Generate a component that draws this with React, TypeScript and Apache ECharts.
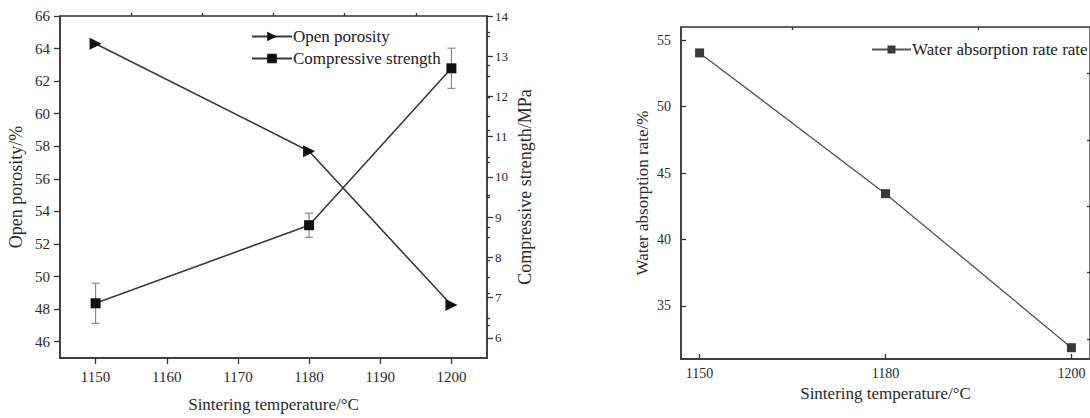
import React, { useEffect, useRef } from "react";
import * as echarts from "echarts";

// Sintering temperatures (°C)
const temps = [1150, 1180, 1200];
// Open porosity (%) and compressive strength (MPa) with error half-widths
const openPorosity = [64.3, 57.7, 48.25];
const compStrength = [6.86, 8.8, 12.7];
const compError = [0.5, 0.3, 0.5];
// Water absorption rate (%) at the same temperatures, plotted as evenly spaced points
const waterTempLabels = ["1150", "1180", "1200"];
const waterAbsorption = [54.05, 43.45, 31.85];

// Tick positions
const leftXMajor = [1150, 1160, 1170, 1180, 1190, 1200];
const leftXMinor = [1155, 1165, 1175, 1185, 1195];
const porosityMajor = [46, 48, 50, 52, 54, 56, 58, 60, 62, 64, 66];
const porosityMinor = [47, 49, 51, 53, 55, 57, 59, 61, 63, 65];
const strengthMajor = [6, 7, 8, 9, 10, 11, 12, 13, 14];
const strengthMinor = [6.5, 7.5, 8.5, 9.5, 10.5, 11.5, 12.5, 13.5];
const waterYMajor = [35, 40, 45, 50, 55];
const waterYMinor = [32.5, 37.5, 42.5, 47.5, 52.5];

const FONT = "Liberation Serif";
const AXIS = "#333";
const TEXT = "#2a2a2a";
const plain = (v: number) => String(v);

export default function App() {
  const ref = useRef<HTMLDivElement>(null);

  useEffect(() => {
    document.body.style.margin = "0";
    const chart = echarts.init(ref.current!, null, { renderer: "svg" });

    const axisLine = { onZero: false, lineStyle: { color: AXIS, width: 1.5 } };
    const minorAxisBase = {
      axisLine: { show: false, onZero: false },
      axisLabel: { show: false },
      splitLine: { show: false },
    };
    const tickStyle = { color: AXIS, width: 1.3 };

    const option: any = {
      animation: false,
      backgroundColor: "#fff",
      textStyle: { fontFamily: FONT },
      grid: [
        {
          left: 60,
          top: 16,
          right: 603,
          bottom: 56,
          show: true,
          borderColor: AXIS,
          borderWidth: 1.3,
          backgroundColor: "transparent",
        },
        {
          left: 681,
          top: 27,
          right: -2.4,
          bottom: 59,
          show: true,
          borderColor: AXIS,
          borderWidth: 1.3,
          backgroundColor: "transparent",
        },
      ],
      legend: [
        {
          orient: "vertical",
          left: 246,
          top: 23,
          itemWidth: 40,
          itemHeight: 12,
          itemGap: 5,
          data: ["Open porosity", "Compressive strength"],
          textStyle: { fontFamily: FONT, fontSize: 17, color: "#222", lineHeight: 17, padding: [0, 0, 0, -4] },
        },
        {
          left: 866,
          top: 36,
          itemWidth: 39,
          itemHeight: 10,
          data: ["Water absorption rate rate"],
          textStyle: { fontFamily: FONT, fontSize: 17, color: "#222", padding: [0, 0, 0, -4] },
        },
      ],
      xAxis: [
        {
          type: "value",
          gridIndex: 0,
          min: 1145,
          max: 1205,
          name: "Sintering temperature/°C",
          nameLocation: "middle",
          nameGap: 38,
          nameTextStyle: { fontFamily: FONT, fontSize: 17, color: TEXT },
          axisLine,
          axisTick: { customValues: leftXMajor, length: 6, lineStyle: tickStyle },
          axisLabel: { customValues: leftXMajor, margin: 11, fontSize: 15, color: TEXT, fontFamily: FONT, formatter: plain },
          splitLine: { show: false },
        },
        {
          type: "value",
          gridIndex: 0,
          min: 1145,
          max: 1205,
          ...minorAxisBase,
          axisTick: { customValues: leftXMinor, length: 3, lineStyle: tickStyle },
        },
        {
          type: "value",
          gridIndex: 1,
          min: -0.1,
          max: 2.1,
          name: "Sintering temperature/°C",
          nameLocation: "middle",
          nameGap: 22,
          nameTextStyle: { fontFamily: FONT, fontSize: 17, color: TEXT },
          axisLine,
          axisTick: { customValues: [0, 1, 2], inside: true, length: 5, lineStyle: tickStyle },
          axisLabel: {
            customValues: [0, 1, 2],
            margin: 7,
            fontSize: 14,
            color: TEXT,
            fontFamily: FONT,
            formatter: (v: number) => waterTempLabels[Math.round(v)] ?? "",
          },
          splitLine: { show: false },
        },
        {
          type: "value",
          gridIndex: 1,
          min: -0.1,
          max: 2.1,
          ...minorAxisBase,
          axisTick: { customValues: [0.5, 1.5], inside: true, length: 3, lineStyle: tickStyle },
        },
      ],
      yAxis: [
        {
          type: "value",
          gridIndex: 0,
          min: 45,
          max: 66,
          name: "Open porosity/%",
          nameLocation: "middle",
          nameGap: 35,
          nameTextStyle: { fontFamily: FONT, fontSize: 18, color: TEXT },
          axisLine,
          axisTick: { customValues: porosityMajor, length: 6, lineStyle: tickStyle },
          axisLabel: { customValues: porosityMajor, margin: 10, fontSize: 15, color: TEXT, fontFamily: FONT, formatter: plain },
          splitLine: { show: false },
        },
        {
          type: "value",
          gridIndex: 0,
          position: "right",
          min: 5.5,
          max: 14,
          name: "Compressive strength/MPa",
          nameLocation: "middle",
          nameGap: 29,
          nameRotate: 90,
          nameTextStyle: { fontFamily: FONT, fontSize: 18, color: TEXT },
          axisLine,
          axisTick: { customValues: strengthMajor, length: 6, lineStyle: tickStyle },
          axisLabel: { customValues: strengthMajor, margin: 8, fontSize: 13, color: TEXT, fontFamily: FONT, formatter: plain },
          splitLine: { show: false },
        },
        {
          type: "value",
          gridIndex: 0,
          min: 45,
          max: 66,
          ...minorAxisBase,
          axisTick: { customValues: porosityMinor, length: 3, lineStyle: tickStyle },
        },
        {
          type: "value",
          gridIndex: 0,
          position: "right",
          min: 5.5,
          max: 14,
          ...minorAxisBase,
          axisTick: { customValues: strengthMinor, length: 3, lineStyle: tickStyle },
        },
        {
          type: "value",
          gridIndex: 1,
          min: 31,
          max: 56,
          name: "Water absorption rate/%",
          nameLocation: "middle",
          nameGap: 30,
          nameTextStyle: { fontFamily: FONT, fontSize: 17, color: TEXT },
          axisLine,
          axisTick: { customValues: waterYMajor, inside: true, length: 5, lineStyle: tickStyle },
          axisLabel: { customValues: waterYMajor, margin: 10, fontSize: 14, color: TEXT, fontFamily: FONT, formatter: plain },
          splitLine: { show: false },
        },
        {
          type: "value",
          gridIndex: 1,
          min: 31,
          max: 56,
          ...minorAxisBase,
          axisTick: { customValues: waterYMinor, inside: true, length: 3, lineStyle: tickStyle },
        },
      ],
      series: [
        {
          name: "Compressive strength error",
          type: "custom",
          xAxisIndex: 0,
          yAxisIndex: 1,
          z: 1,
          encode: { x: 0, y: 1 },
          data: temps.map((t, i) => [t, compStrength[i], compError[i]]),
          renderItem: (_params: any, api: any) => {
            const x = api.value(0);
            const y = api.value(1);
            const e = api.value(2);
            const hi = api.coord([x, y + e]);
            const lo = api.coord([x, y - e]);
            const cap = 4;
            const style = { stroke: "#8a8a8a", lineWidth: 1.2 };
            return {
              type: "group",
              children: [
                { type: "line", shape: { x1: hi[0], y1: hi[1], x2: lo[0], y2: lo[1] }, style },
                { type: "line", shape: { x1: hi[0] - cap, y1: hi[1], x2: hi[0] + cap, y2: hi[1] }, style },
                { type: "line", shape: { x1: lo[0] - cap, y1: lo[1], x2: lo[0] + cap, y2: lo[1] }, style },
              ],
            };
          },
        },
        {
          name: "Open porosity",
          type: "line",
          xAxisIndex: 0,
          yAxisIndex: 0,
          z: 3,
          data: temps.map((t, i) => [t, openPorosity[i]]),
          symbol: "triangle",
          symbolRotate: -90,
          symbolSize: 12,
          lineStyle: { color: "#3a3a3a", width: 1.6 },
          itemStyle: { color: "#111" },
        },
        {
          name: "Compressive strength",
          type: "line",
          xAxisIndex: 0,
          yAxisIndex: 1,
          z: 3,
          data: temps.map((t, i) => [t, compStrength[i]]),
          symbol: "rect",
          symbolSize: 10,
          lineStyle: { color: "#3a3a3a", width: 1.6 },
          itemStyle: { color: "#111" },
        },
        {
          name: "Water absorption rate rate",
          type: "line",
          xAxisIndex: 2,
          yAxisIndex: 4,
          z: 3,
          data: waterAbsorption.map((v, i) => [i, v]),
          symbol: "rect",
          symbolSize: 9,
          lineStyle: { color: "#555", width: 1.3 },
          itemStyle: { color: "#3a3a3a" },
        },
      ],
    };

    chart.setOption(option);
    return () => chart.dispose();
  }, []);

  return <div ref={ref} style={{ width: 1090, height: 418 }} />;
}
